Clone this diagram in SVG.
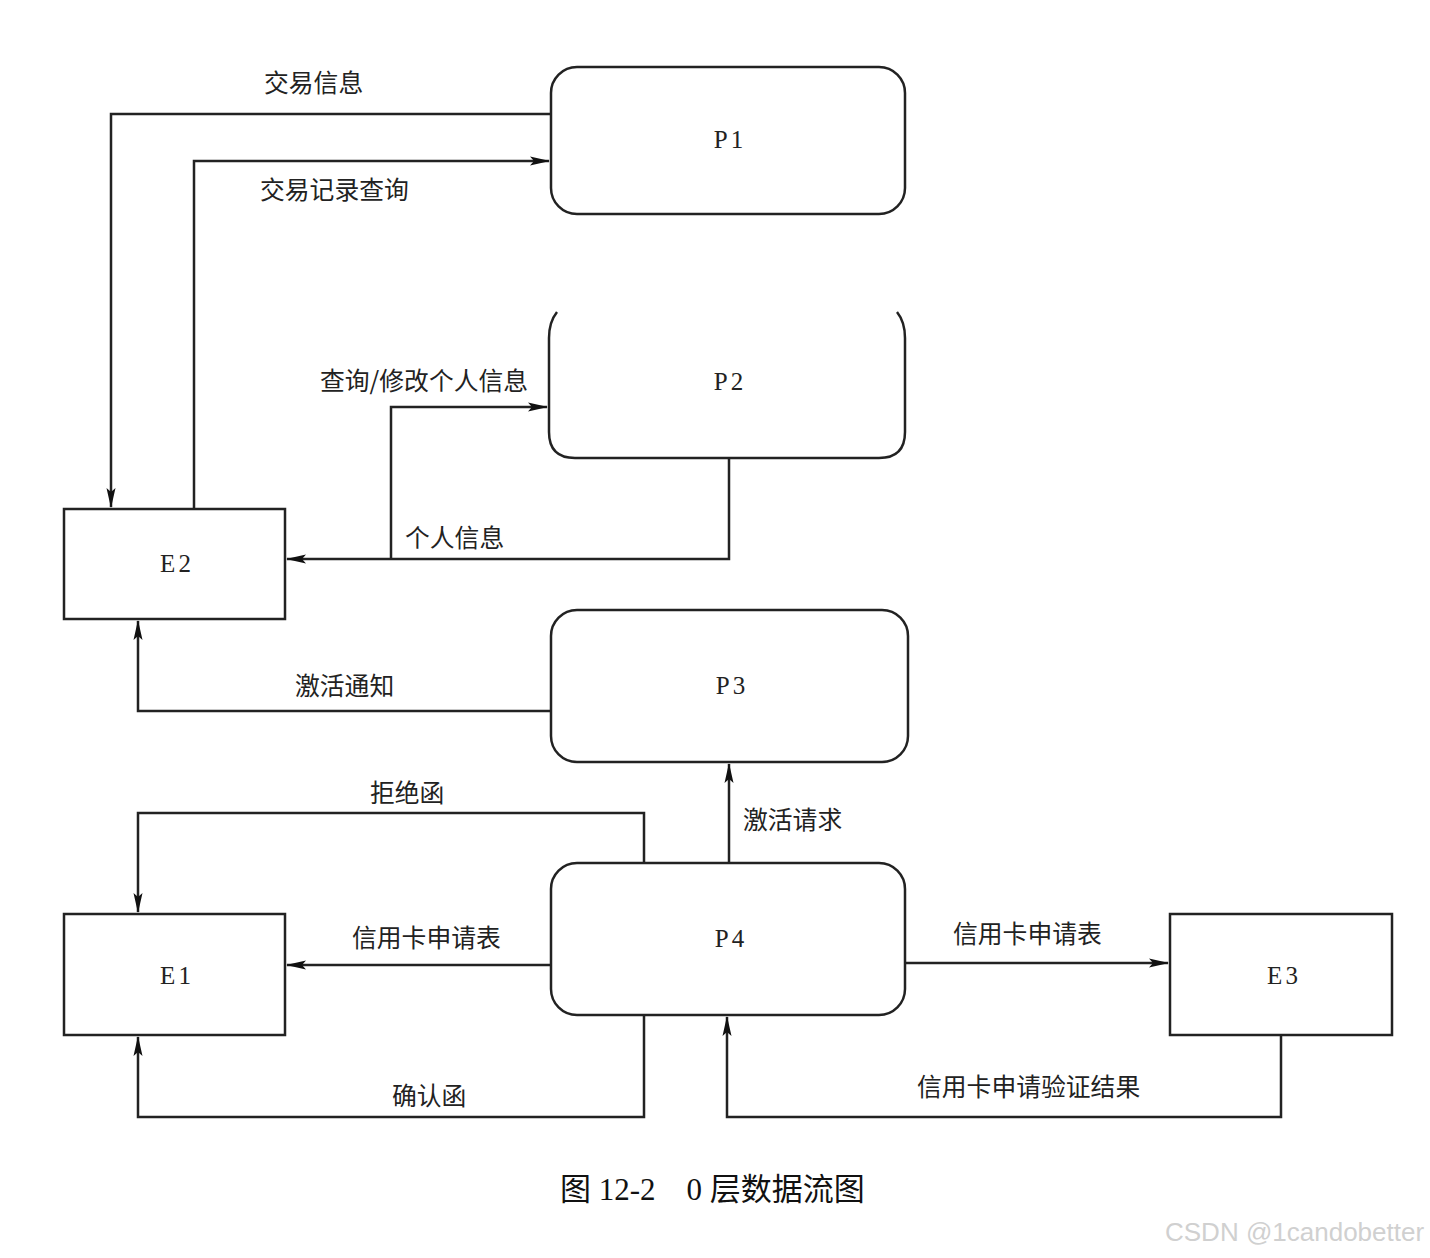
<svg xmlns="http://www.w3.org/2000/svg" width="1430" height="1258" viewBox="0 0 1430 1258">
<defs>
<marker id="arr" markerWidth="20" markerHeight="12" refX="19" refY="6" orient="auto" markerUnits="userSpaceOnUse">
<path d="M0,1.5 L20,6 L0,10.5 L4,6 Z" fill="#111"/>
</marker>
</defs>
<style>
.n{fill:#fff;stroke:#222;stroke-width:2.5}
.c{fill:none;stroke:#222;stroke-width:2.5;marker-end:url(#arr)}
.t{font-family:"Liberation Serif",serif;font-size:25px;fill:#222;text-anchor:middle;letter-spacing:3px}
.l{font-family:"Noto Sans CJK SC",sans-serif;font-size:24.8px;fill:#222}
.cap{font-family:"Liberation Serif","Noto Sans CJK SC",serif;font-size:31px;fill:#111}
.wm{font-family:"Liberation Sans",sans-serif;font-size:26px;fill:#d0d0d0}
</style>
<rect width="1430" height="1258" fill="#fff"/>
<g id="connectors">
<path class="c" d="M551,114 H111 V507"/>
<path class="c" d="M194,509 V161 H549"/>
<path class="c" d="M391,559 V407 H547"/>
<path class="c" d="M729,458 V559 H287"/>
<path class="c" d="M551,711 H138 V621"/>
<path class="c" d="M644,863 V813 H138 V912"/>
<path class="c" d="M729,863 V764"/>
<path class="c" d="M551,965 H287"/>
<path class="c" d="M905,963 H1168"/>
<path class="c" d="M644,1015 V1117 H138 V1037"/>
<path class="c" d="M1281,1035 V1117 H727 V1017"/>
</g>
<g id="labels">
<text class="l" x="264" y="92">交易信息</text>
<text class="l" x="260" y="199">交易记录查询</text>
<text class="l" x="320" y="390">查询/修改个人信息</text>
<text class="l" x="405" y="547">个人信息</text>
<text class="l" x="295" y="695">激活通知</text>
<text class="l" x="370" y="802">拒绝函</text>
<text class="l" x="743" y="829">激活请求</text>
<text class="l" x="352" y="947">信用卡申请表</text>
<text class="l" x="953" y="943">信用卡申请表</text>
<text class="l" x="392" y="1105">确认函</text>
<text class="l" x="917" y="1096">信用卡申请验证结果</text>
</g>
<g id="P1"><rect class="n" x="551" y="67" width="354" height="147" rx="26"/><text class="t" x="730" y="148">P1</text></g>
<g id="P2"><path class="n" d="M557,312 Q549,322 549,338 V432 Q549,458 575,458 H879 Q905,458 905,432 V338 Q905,322 897,312"/><text class="t" x="730" y="390">P2</text></g>
<g id="P3"><rect class="n" x="551" y="610" width="357" height="152" rx="26"/><text class="t" x="732" y="694">P3</text></g>
<g id="P4"><rect class="n" x="551" y="863" width="354" height="152" rx="26"/><text class="t" x="731" y="947">P4</text></g>
<g id="E2"><rect class="n" x="64" y="509" width="221" height="110"/><text class="t" x="177" y="572">E2</text></g>
<g id="E1"><rect class="n" x="64" y="914" width="221" height="121"/><text class="t" x="177" y="984">E1</text></g>
<g id="E3"><rect class="n" x="1170" y="914" width="222" height="121"/><text class="t" x="1284" y="984">E3</text></g>
<text class="cap" x="560" y="1200">图 12-2　0 层数据流图</text>
<text class="wm" x="1165" y="1241">CSDN @1candobetter</text>
</svg>
